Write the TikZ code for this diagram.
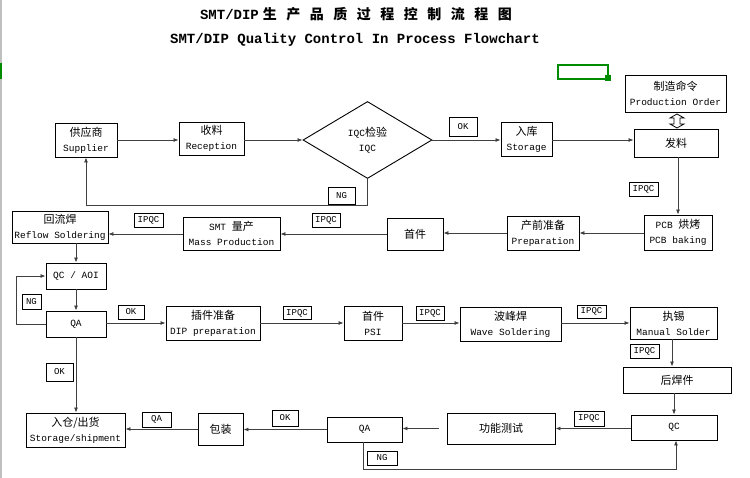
\documentclass[tikz,border=0pt]{standalone}
\usepackage{fontspec}
\setmainfont{Liberation Mono}
\newfontfamily\cjk{Noto Sans CJK SC}
\usetikzlibrary{shapes.geometric, arrows.meta}
\newcommand{\zh}[1]{{\cjk\fontsize{11}{15}\selectfont #1}}
\newcommand{\tgap}{\hspace{9.5pt}}

\begin{document}
\begin{tikzpicture}[x=1pt, y=-1pt,
    box/.style={draw, line width=0.9pt, rectangle, inner sep=0pt, align=center, font=\fontsize{9.5}{15}\selectfont},
    tag/.style={draw, line width=0.8pt, inner sep=0pt, minimum width=28pt, minimum height=14pt, font=\fontsize{9}{10}\selectfont},
    link/.style={draw=black!75, line width=0.8pt},
    >={Latex[length=5pt,width=4pt]}]
    \fill[white] (0,0) rectangle (750,478);
    \useasboundingbox (0,0) rectangle (750,478);
    \fill[black!25] (0,0) rectangle (1.5,478);
    \fill[green!55!black] (0,63) rectangle (1.5,79);

    % titles
    \node[font=\bfseries\fontsize{14}{16}\selectfont] (title) at (356,14)
        {SMT/DIP\hspace{4pt}{\cjk\bfseries 生\tgap 产\tgap 品\tgap 质\tgap 过\tgap 程\tgap 控\tgap 制\tgap 流\tgap 程\tgap 图}};
    \node[font=\bfseries\fontsize{14}{16}\selectfont] (subtitle) at (355,40)
        {SMT/DIP Quality Control In Process Flowchart};

    % stray selection mark
    \draw[green!55!black, line width=2pt] (558,65) rectangle (608,79);
    \fill[green!55!black] (605,75) rectangle (611,81);

    % row 1
    \node[box, minimum width=62pt, minimum height=34pt] (sup) at (86,140) {\zh{供应商}\\Supplier};
    \node[box, minimum width=65pt, minimum height=33pt] (rec) at (211.5,138.5) {\zh{收料}\\Reception};
    \node[draw, diamond, aspect=1.675, minimum width=129pt, minimum height=77pt, inner sep=0pt,
          line width=0.9pt, align=center, font=\fontsize{9.5}{15}\selectfont] (iqc) at (367.5,140) {IQC\zh{检验}\\IQC};
    \node[box, minimum width=51pt, minimum height=34pt] (sto) at (526.5,139) {\zh{入库}\\Storage};
    \node[box, minimum width=101pt, minimum height=37pt] (ord) at (675.5,93.5) {\zh{制造命令}\\Production Order};
    \node[box, minimum width=84pt, minimum height=28pt] (iss) at (676,143) {\zh{发料}};

    % row 2
    \node[box, minimum width=68pt, minimum height=35pt] (pcb) at (678,232.5) {PCB \zh{烘烤}\\PCB baking};
    \node[box, minimum width=72pt, minimum height=34pt] (prep) at (543,233) {\zh{产前准备}\\Preparation};
    \node[box, minimum width=56pt, minimum height=32pt] (fa) at (415,234) {\zh{首件}};
    \node[box, minimum width=97pt, minimum height=33pt] (mass) at (231.5,233.5) {SMT \zh{量产}\\Mass Production};
    \node[box, minimum width=96pt, minimum height=32pt] (reflow) at (60,227) {\zh{回流焊}\\Reflow Soldering};
    \node[box, minimum width=60pt, minimum height=26pt] (aoi) at (76,276) {QC / AOI};
    \node[box, minimum width=60pt, minimum height=26pt] (qa) at (76,324) {QA};

    % row 3
    \node[box, minimum width=94pt, minimum height=34pt] (dip) at (213,323) {\zh{插件准备}\\DIP preparation};
    \node[box, minimum width=58pt, minimum height=34pt] (psi) at (373,323) {\zh{首件}\\PSI};
    \node[box, minimum width=101pt, minimum height=34pt] (wave) at (510.5,324.5) {\zh{波峰焊}\\Wave Soldering};
    \node[box, minimum width=87pt, minimum height=32pt] (man) at (673.5,323) {\zh{执锡}\\Manual Solder};
    \node[box, minimum width=108pt, minimum height=26pt] (post) at (677,380) {\zh{后焊件}};

    % row 4
    \node[box, minimum width=86pt, minimum height=25pt] (qc) at (674,427.5) {QC};
    \node[box, minimum width=108pt, minimum height=31pt] (ft) at (501,428.5) {\zh{功能测试}};
    \node[box, minimum width=75pt, minimum height=25pt] (qa2) at (364.5,429.5) {QA};
    \node[box, minimum width=45pt, minimum height=32pt] (pack) at (220.5,429) {\zh{包装}};
    \node[box, minimum width=99pt, minimum height=34pt] (ship) at (75.5,430) {\zh{入仓/出货}\\Storage/shipment};

    % tags
    \node[tag, minimum width=27pt, minimum height=17pt] (ng1) at (341.5,195.5) {NG};
    \node[tag, minimum height=19pt] (ok1) at (463,126.5) {OK};
    \node[tag, minimum width=29pt] (ipqc1) at (643.5,189.5) {IPQC};
    \node[tag] (ipqc2) at (326,220) {IPQC};
    \node[tag, minimum width=29pt] (ipqc3) at (148.5,220) {IPQC};
    \node[tag, minimum width=19pt, minimum height=15pt] (ng2) at (31.5,301.5) {NG};
    \node[tag, minimum width=26pt] (ok2) at (131,312) {OK};
    \node[tag, minimum height=13pt] (ipqc4) at (297,313) {IPQC};
    \node[tag] (ipqc5) at (430,313) {IPQC};
    \node[tag, minimum width=29pt, minimum height=13pt] (ipqc6) at (591.5,311.5) {IPQC};
    \node[tag, minimum width=29pt] (ipqc7) at (644.5,351) {IPQC};
    \node[tag, minimum width=30pt, minimum height=15pt] (ipqc8) at (589,418.5) {IPQC};
    \node[tag, minimum width=26pt, minimum height=16pt] (ok3) at (285,418) {OK};
    \node[tag, minimum width=29pt, minimum height=15pt] (qalbl) at (156.5,419.5) {QA};
    \node[tag, minimum width=30pt] (ng3) at (382,458) {NG};
    \node[tag, minimum width=27pt, minimum height=18pt] (ok4) at (59.5,372) {OK};

    \coordinate (ngturn) at (367.5,205);

    % connectors
    \draw[link, ->] (sup.east) -- (sup.east -| rec.west);
    \draw[link, ->] (rec.east |- iqc.west) -- (iqc.west);
    \draw[link, ->] (iqc.east) -- (iqc.east -| sto.west);
    \draw[link, ->] (iqc.south) -- (ngturn) -| (sup.south);
    \draw[link, ->] (sto.east |- iqc.east) -- (iqc.east -| iss.west);
    \draw[link, ->] (pcb.north |- iss.south) -- (pcb.north);
    \draw[link, ->] (pcb.west |- prep.east) -- (prep.east);
    \draw[link, ->] (prep.west) -- (prep.west -| fa.east);
    \draw[link, ->] (fa.west) -- (fa.west -| mass.east);
    \draw[link, ->] (mass.west |- fa.west) -- (fa.west -| reflow.east);
    \draw[link, ->] (aoi.north |- reflow.south) -- (aoi.north);
    \draw[link, ->] (aoi.south) -- (qa.north);
    \draw[link, ->] (qa.west) -- ++(-29,0) |- (aoi.west);
    \draw[link, ->] (qa.east |- dip.west) -- (dip.west);
    \draw[link, ->] (dip.east) -- (dip.east -| psi.west);
    \draw[link, ->] (psi.east) -- (psi.east -| wave.west);
    \draw[link, ->] (wave.east |- man.west) -- (man.west);
    \draw[link, ->] (man.south -| 672,0) -- (post.north -| 672,0);
    \draw[link, ->] (post.south -| qc.north) -- (qc.north);
    \draw[link, ->] (qc.west |- ft.east) -- (ft.east);
    \draw[link, ->, shorten <=8pt] (ft.west) -- (ft.west -| qa2.east);
    \draw[link, ->] (qa2.south -| 363,0) -- ++(0,27) -| (qc.south -| 676,0);
    \draw[link, ->] (qa2.west) -- (qa2.west -| pack.east);
    \draw[link, ->] (pack.west) -- (pack.west -| ship.east);
    \draw[link, ->] (qa.south) -- (qa.south |- ship.north);

    % order / issue exchange mark
    \draw[line width=0.8pt] (677,114) -- (684,118) -- (680,118) -- (680,124) -- (684,124) -- (677,128)
        -- (670,124) -- (674,124) -- (674,118) -- (670,118) -- cycle;
\end{tikzpicture}
\end{document}
